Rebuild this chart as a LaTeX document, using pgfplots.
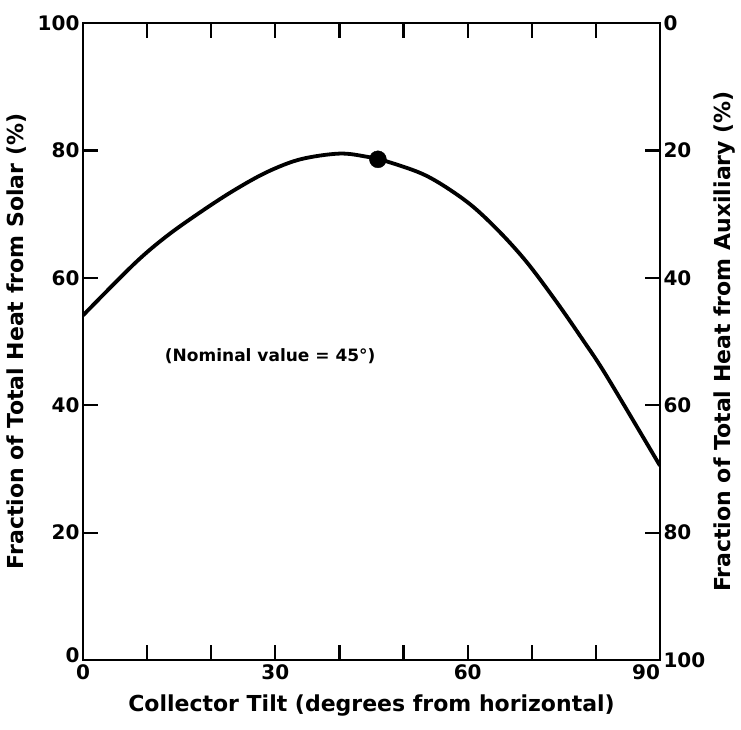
\documentclass[border=0pt]{standalone}
\usepackage{fontspec}
\setmainfont{DejaVu Sans}
\usepackage{pgfplots}
\pgfplotsset{compat=1.18}
\begin{document}
\begin{tikzpicture}
\pgfplotsset{every axis/.append style={
  scale only axis, width=577pt, height=637pt,
  font=\fontsize{20}{23}\selectfont\bfseries,
  /pgf/number format/assume math mode=true,
  ticklabel style={font=\fontsize{20}{23}\selectfont\bfseries},
  label style={font=\fontsize{22}{26}\selectfont\bfseries},
  axis line style={line width=2.8pt, black},
  tick style={line width=2.2pt, black},
  tick align=inside,
  major tick length=15pt,
  ymin=0, ymax=100, xmin=0, xmax=90,
}}
\begin{axis}[
  xtick={0,10,...,90}, xticklabels={0,,,30,,,60,,,\makebox[0pt][r]{90}},
  ytick={0,20,...,100},
  yticklabels={\raisebox{9pt}{0},20,40,60,80,100},
  xtick pos=both, ytick pos=left,
  xticklabel style={yshift=-1pt},
  xlabel={Collector Tilt (degrees from horizontal)},
  ylabel={Fraction of Total Heat from Solar (\%)},
  xlabel shift=8pt,
  ylabel shift=4pt,
]
\addplot[black, line width=3.8pt, smooth, tension=0.55] coordinates {
(0,54.1) (8,62.2) (13,66.5) (18.3,70.3) (23.5,73.7) (28.7,76.6) (33.9,78.6)
(40,79.5) (44.3,79.0) (47.3,78.3) (53.6,76.0) (59.8,72.0) (64.5,67.7)
(69.1,62.6) (73.8,56.3) (78,50.2) (81.6,44.7) (90,30.5)};
\addplot[only marks, mark=*, mark size=8.5pt, black] coordinates {(46,78.6)};
\node[font=\fontsize{17}{20}\selectfont\bfseries] at (axis cs:29.2,47.7) {(Nominal value = 45°)};
\end{axis}
\begin{axis}[
  axis x line=none, axis y line*=right,
  y dir=reverse,
  ytick={0,20,...,100},
  yticklabels={0,20,40,60,80,\raisebox{-6pt}{100}},
  ytick pos=right,
  ylabel={Fraction of Total Heat from Auxiliary (\%)},
  ylabel shift=2pt,
]
\addplot[draw=none] coordinates {(0,0)};
\end{axis}
\path (current axis.south west) ++(-83pt,-69pt) (current axis.north east) ++(81pt,23pt);
\end{tikzpicture}
\end{document}
